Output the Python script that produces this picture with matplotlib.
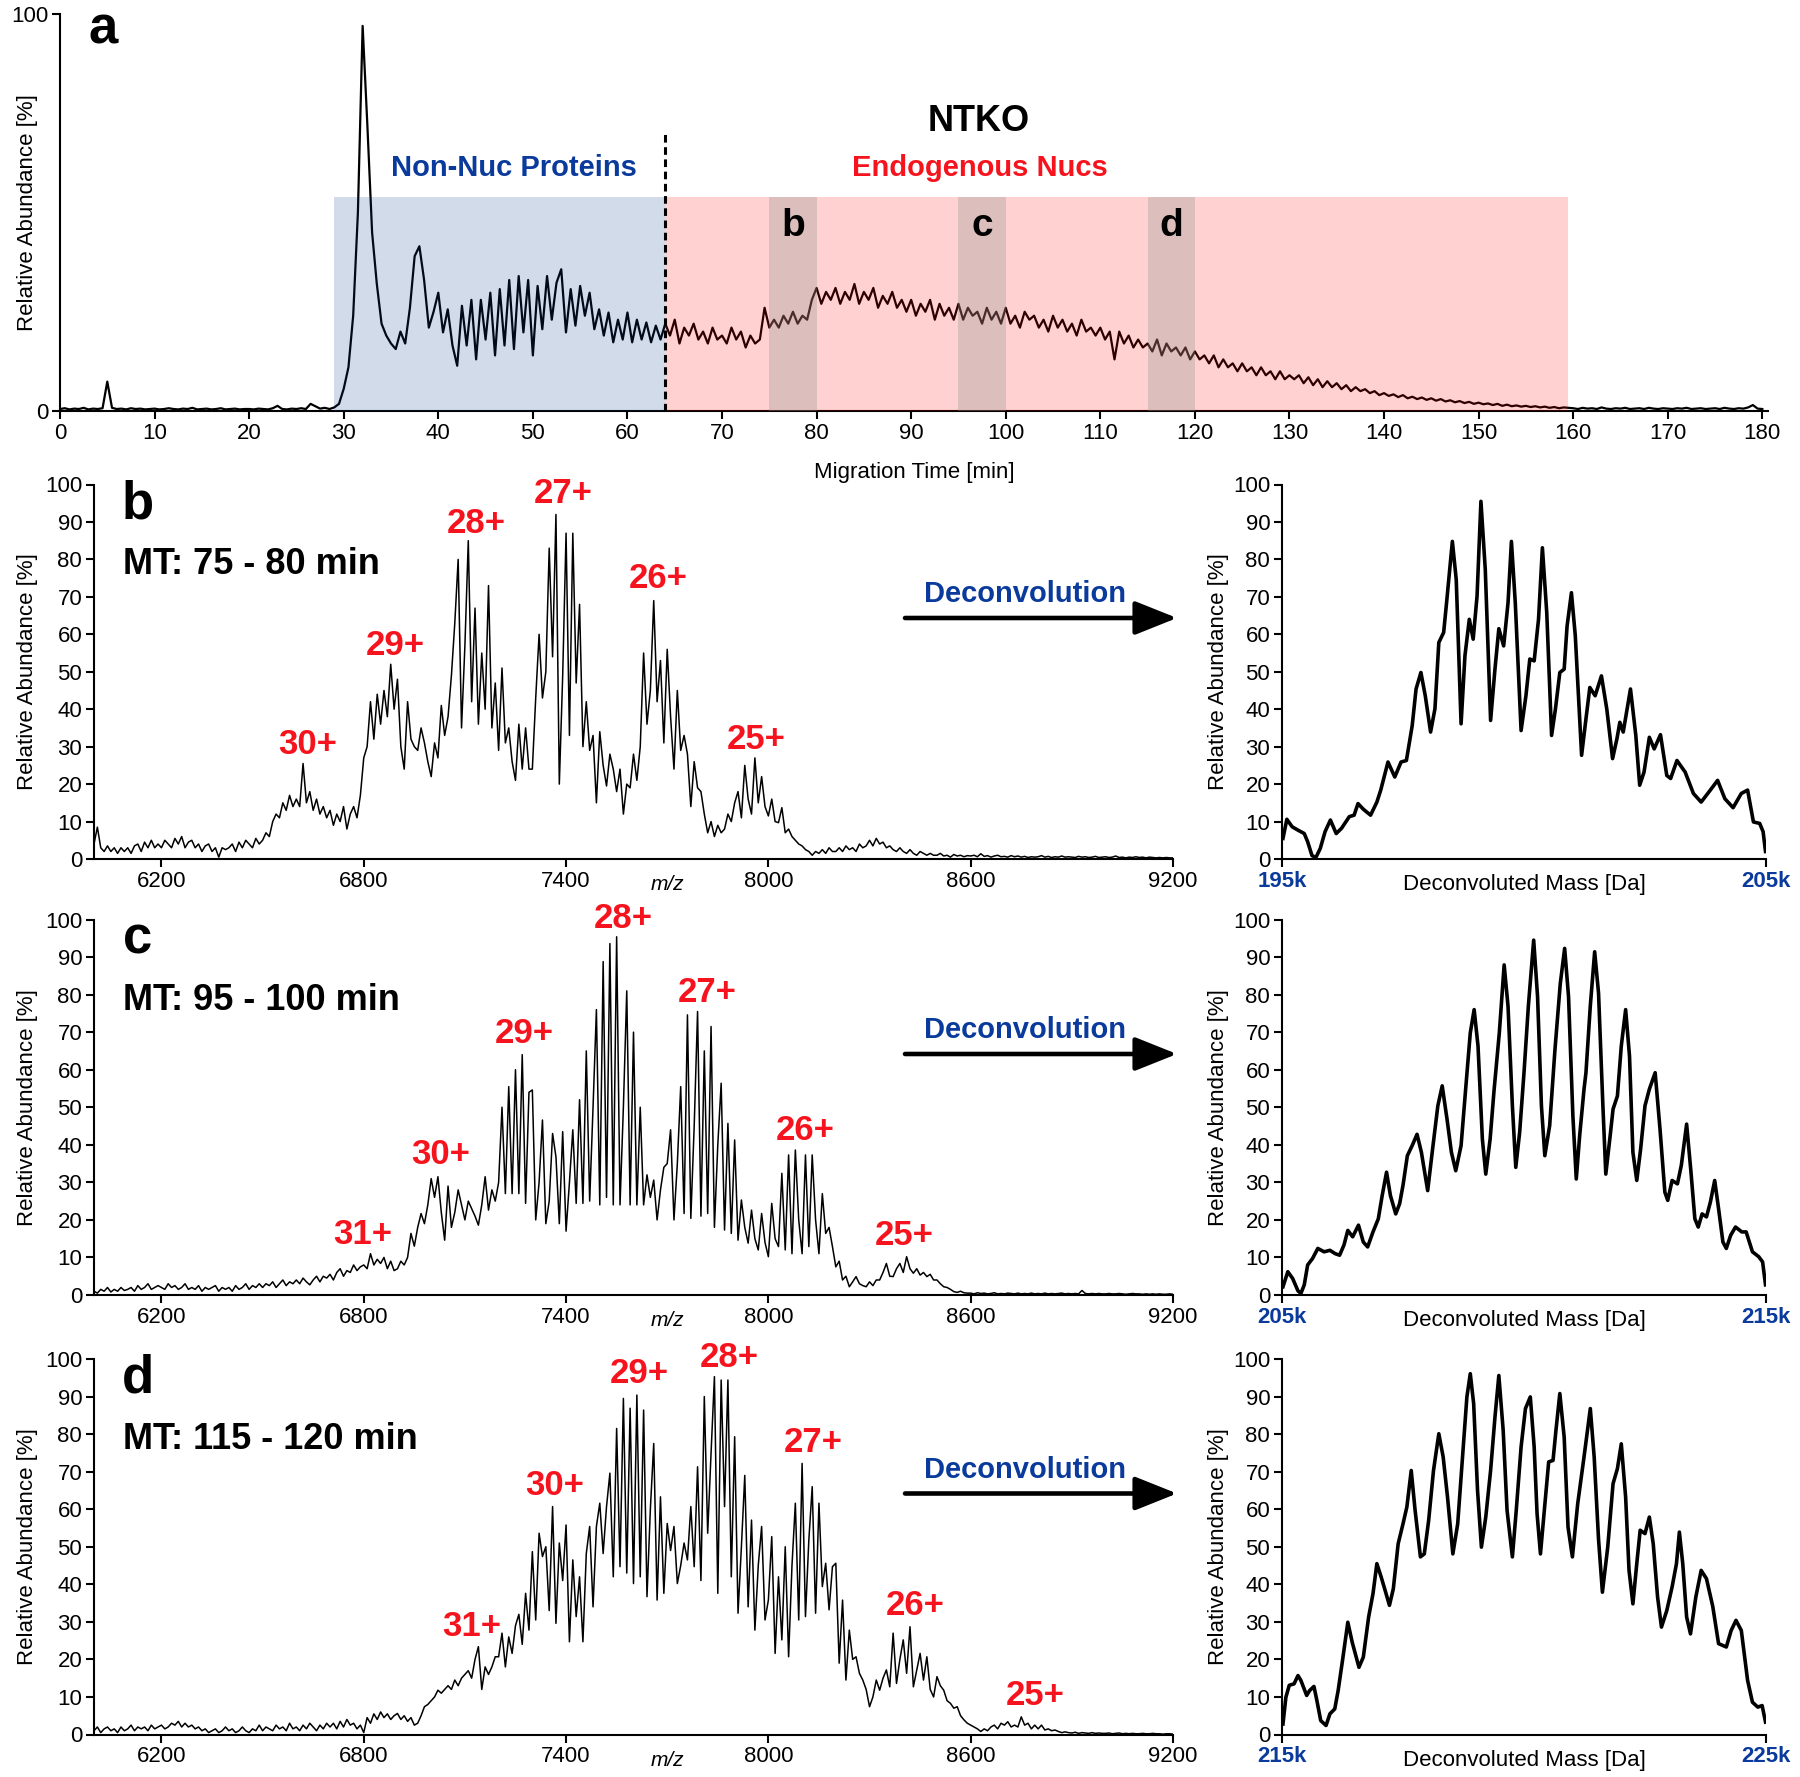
import numpy as np
import matplotlib
matplotlib.use("Agg")
import matplotlib.pyplot as plt
from matplotlib.patches import FancyArrowPatch
from matplotlib.transforms import blended_transform_factory

plt.rcParams["font.family"] = ["Liberation Sans", "DejaVu Sans"]

W, H = 1800, 1777
BLUE = "#0a3a9c"
RED = "#f5141e"

# ── Panel a: electropherogram, one value every 0.5 min from 0 to 180 min ──────
ep_abundance = [
    0.5, 0.7, 0.4, 0.6, 0.5, 0.8, 0.4, 0.6, 0.5, 0.7, 7.4, 0.8, 0.5, 0.6, 0.4, 0.7, 0.5, 0.6, 0.4, 0.5,
    0.6, 0.4, 0.5, 0.7, 0.5, 0.4, 0.6, 0.5, 0.8, 0.4, 0.5, 0.6, 0.4, 0.5, 0.7, 0.4, 0.5, 0.6, 0.4, 0.5,
    0.5, 0.4, 0.6, 0.5, 0.4, 0.7, 1.3, 0.5, 0.4, 0.6, 0.5, 0.7, 0.5, 1.8, 1.2, 0.6, 0.8, 0.5, 0.9, 1.8,
    5.6, 11, 24, 50, 97, 72, 45, 32, 22, 19, 17, 15.6, 20, 17, 26, 39, 41.5, 33, 21, 25,
    29.8, 19.8, 25.6, 16.5, 11.4, 26.5, 16.5, 28, 13, 28, 18, 29.8, 14, 30.7, 16.5, 33, 15.6, 34, 19.8, 33,
    14, 31.5, 20.6, 34, 23, 32.3, 35.7, 19.8, 30.7, 21.5, 31.5, 24, 29.8, 20.6, 25.6, 19, 24.8, 17.3, 23, 18,
    24.8, 17.3, 23, 18, 22.3, 17.3, 21.5, 18, 22, 19, 23, 17, 21, 19, 22, 18, 20, 17, 21, 18,
    19, 17, 21, 18, 20, 16, 19, 17, 18, 26, 21, 23, 21, 24, 22, 25, 22, 24, 23, 28,
    31, 27, 30, 28, 31, 27, 30, 28, 32, 27, 30, 28, 31, 26, 29, 27, 30, 26, 28, 25,
    28, 24, 27, 25, 28, 23, 27, 24, 26, 23, 27, 23, 26, 24, 25, 22, 26, 23, 25, 22,
    26, 22, 24, 21, 25, 23, 24, 21, 23, 20, 24, 21, 23, 20, 22, 19, 23, 20, 21, 19,
    21, 18, 20, 13, 20, 17, 19, 16, 18, 16, 17, 15, 18, 14, 17, 15, 16, 14, 16, 13,
    15, 13, 14, 12, 14, 11, 13, 11, 12, 10, 12, 10, 11, 9, 11, 9, 10, 8, 10, 8,
    9, 8, 9, 7, 8.5, 6.5, 8, 6, 7.5, 6, 7, 5.5, 6.5, 5, 6, 5, 5.5, 4.5, 5, 4,
    4.5, 3.8, 4.2, 3.5, 4, 3.2, 3.6, 3, 3.4, 2.8, 3.2, 2.6, 3, 2.4, 2.7, 2.2, 2.5, 2, 2.3, 1.8,
    2.1, 1.7, 1.9, 1.5, 1.8, 1.3, 1.6, 1.2, 1.4, 1.1, 1.3, 1, 1.2, 0.9, 1.1, 0.8, 1, 0.7, 0.9, 0.8,
    0.7, 0.5, 0.8, 0.6, 0.7, 0.5, 0.9, 0.6, 0.5, 0.7, 0.6, 0.8, 0.5, 0.6, 0.7, 0.5, 0.8, 0.6, 0.5, 0.7,
    0.6, 0.5, 0.7, 0.6, 0.8, 0.5, 0.6, 0.7, 0.5, 0.6, 0.7, 0.5, 0.8, 0.6, 0.5, 0.7, 0.6, 0.9, 1.5, 0.6,
    0.5,
]
ep_step = 0.5

# fractions picked for MS (start, end, panel letter)
fractions = [(75, 80, "b"), (95, 100, "c"), (115, 120, "d")]

# ── Raw MS spectra, one value every 10 m/z starting at 6000 ───────────────────
mz_start, mz_step = 6000, 10

ms_b = [
    4, 8.5, 3, 2, 3.5, 2, 3, 1.5, 3, 2,
    3, 1.5, 3.5, 4, 2, 4.5, 3, 5, 3, 4,
    3, 5, 4, 3, 5.5, 4, 6, 3, 4.5, 5,
    3, 4, 2, 3.5, 4, 2, 3, 0.5, 3, 2.5,
    3, 4, 2, 4.5, 3, 5, 4, 3, 5.5, 4,
    5, 7, 6, 10, 12, 11, 15, 13, 17, 14,
    16, 14, 25.5, 15, 18, 13, 16, 12, 14, 11,
    13, 9, 12, 10, 14, 8, 12, 14, 11, 17,
    27, 30, 42, 32, 44, 36, 45, 38, 52, 40,
    48, 30, 24, 42, 32, 30, 29, 35, 31, 26,
    22, 31, 27, 41, 33, 38, 49, 63, 80, 35,
    57, 85, 42, 67, 36, 55, 40, 73, 35, 47,
    29, 51, 31, 35, 26, 21, 36, 24, 35, 24,
    24, 43, 60, 43, 50, 83, 54, 92, 20, 49,
    87, 33, 87, 47, 68, 30, 42, 29, 33, 15,
    34, 25, 19.5, 28, 24, 18, 24, 12, 20, 19,
    28, 21, 30, 55, 36, 45, 69, 42, 53, 31,
    56, 38, 24, 45, 29, 33, 28, 14, 26, 19,
    18, 12, 7, 10, 6, 9, 7, 8, 12, 10,
    15, 18, 11, 25, 16, 12, 27, 15, 22, 14,
    11.5, 16, 10, 9.7, 13.7, 7, 8, 6, 5, 4,
    3.5, 2.5, 2, 1, 2, 1.5, 2.5, 1.5, 3, 2,
    2, 3, 2, 3.5, 2.5, 3, 2, 4, 3, 3.5,
    5, 3.5, 5.5, 4, 4.5, 3, 3.5, 2.5, 2, 3,
    2, 1.5, 2.5, 1.5, 1, 2, 1.5, 1, 1.5, 1,
    1, 1.5, 0.8, 1, 0.5, 1.2, 0.8, 1, 0.6, 0.9,
    0.8, 1, 0.6, 1.4, 0.7, 0.9, 0.5, 0.8, 1, 0.6,
    0.7, 0.5, 0.9, 0.6, 0.8, 0.5, 0.7, 0.4, 0.6, 0.5,
    0.6, 0.9, 0.5, 0.7, 0.4, 0.6, 0.5, 0.8, 0.5, 0.6,
    0.5, 0.4, 0.7, 0.5, 0.6, 0.4, 0.5, 0.7, 0.4, 0.5,
    0.6, 0.4, 0.5, 0.8, 0.4, 0.5, 0.3, 0.5, 0.4, 0.6,
    0.4, 0.5, 0.3, 0.5, 0.4, 0.3, 0.4, 0.3, 0.4, 0.3,
    0.3,
]

ms_c = [
    1, 0.5, 1.5, 1, 2, 0.8, 1.5, 1, 2, 1.2,
    1.5, 2, 1, 2.5, 1.5, 2, 3, 1.5, 2, 2.5,
    2, 1.5, 3, 2, 2.5, 1.5, 2, 3, 1.5, 2,
    1.5, 2.5, 1, 2, 1.5, 2, 2.5, 1, 2, 1.5,
    2, 1, 2.5, 1.5, 2, 3, 1.5, 2.5, 2, 3,
    2, 3, 2.5, 3.5, 2, 3, 4, 2.5, 3.5, 3,
    4, 3, 4.5, 3.5, 2.7, 4, 5, 3.5, 5, 4.5,
    5.5, 4, 6, 7, 5, 6.5, 6, 8, 6.5, 7.5,
    8, 7, 11, 8, 9.5, 8.4, 10, 7, 9, 6.5,
    7, 9, 8, 10, 16.4, 13, 18, 21.7, 19, 24,
    31, 26, 31.5, 22, 14.6, 29, 18, 22, 28, 24,
    20, 25, 23, 21, 18.6, 24, 31.5, 22.6, 28, 25,
    30, 50, 27, 55.5, 27, 60, 27, 64, 24.4, 54,
    54.6, 20, 30, 46.6, 19, 25, 43, 36.8, 19, 43.5,
    17, 30, 44, 24.4, 52, 24.4, 65, 25, 50, 76,
    24, 88.8, 26, 93.6, 24, 95.4, 24, 50, 81, 24,
    70, 24, 50, 24, 32, 26, 30.6, 20, 28, 34,
    35, 44, 20, 35, 55.5, 21.7, 74.6, 20.4, 45, 75.5,
    21, 65, 21.7, 71.5, 18, 40, 56.4, 17.3, 45.7, 16.4,
    41.3, 14.6, 25.3, 18, 13.8, 22.6, 15, 12, 21.7, 14,
    10.2, 24.4, 15, 12.9, 32.4, 12, 37.3, 11, 38.6, 20,
    11, 37.3, 12.9, 37.3, 20, 11, 27, 16.4, 18, 12.9,
    7.5, 9, 4, 5, 2.2, 3.5, 4.9, 3, 2.5, 2.2,
    3.5, 2.5, 4, 4, 6, 8.4, 5, 4.9, 7, 8.4,
    6, 10.2, 7, 5.8, 7, 5.3, 6, 4.9, 5.5, 4,
    4, 3, 2.2, 2, 1.5, 0.9, 0.7, 1, 0.6, 0.5,
    0.5, 0.3, 0.6, 0.4, 0.5, 0.3, 0.4, 0.6, 0.3, 0.4,
    0.3, 0.5, 0.4, 0.3, 0.5, 0.3, 0.4, 0.3, 0.5, 0.3,
    0.4, 0.3, 0.5, 0.3, 0.4, 0.3, 0.4, 0.5, 0.3, 0.4,
    0.3, 0.4, 0.3, 1.2, 0.4, 0.3, 0.4, 0.3, 0.4, 0.3,
    0.3, 0.4, 0.3, 0.3, 0.4, 0.3, 0.2, 0.3, 0.4, 0.3,
    0.3, 0.2, 0.3, 0.2, 0.3, 0.2, 0.3, 0.2, 0.2, 0.3,
    0.2,
]

ms_d = [
    1, 2, 0.5, 1.5, 2, 1, 1.5, 0.5, 2, 1,
    1.5, 2.5, 1, 2, 1.5, 2, 1, 2.5, 1.5, 2,
    2.5, 1.5, 2, 3, 2.5, 3.5, 2, 3, 2, 2.5,
    1.5, 2, 1, 1.5, 0.5, 1, 1.5, 0.5, 1, 2,
    1, 1.5, 0.5, 1, 2, 1, 0.5, 1.5, 1, 2.5,
    1, 2, 1.5, 1, 2.5, 1.5, 2, 1, 3, 1.5,
    2, 1, 2.5, 1.5, 3, 2, 1, 2.5, 1.5, 3,
    2, 3, 1.5, 3.5, 2, 4, 2.5, 3, 1.5, 2.5,
    0.5, 4.5, 3, 5.5, 4, 6, 4.5, 5.5, 4, 5,
    5.6, 4, 5, 3.5, 4.5, 2.5, 3, 5, 7.4, 8,
    9, 10, 11.8, 11, 12, 13, 12, 14.5, 13, 15,
    16, 17, 15, 20, 23.4, 12, 18, 16, 18, 20.7,
    20.7, 27, 18, 26, 21.6, 29, 32, 24, 37.6, 27.8,
    48.7, 30.5, 53.6, 47.4, 50, 33, 60.7, 29.6, 51, 41,
    55.8, 24.7, 46.5, 31.4, 42, 24.7, 48.2, 55.4, 34, 55.4,
    61.6, 48.2, 60.7, 69.6, 42, 81.5, 44.7, 89.5, 43, 86.9,
    40.2, 90.4, 42, 86.4, 36.7, 60, 77.5, 35.8, 63.3, 37.6,
    56.2, 49, 55.4, 40.2, 45, 51, 46.5, 60.7, 44.7, 71.3,
    41, 90, 53.6, 74.9, 95.3, 37.6, 94.4, 60.7, 94.4, 42,
    79.3, 32.3, 50, 69, 34, 57.1, 27.8, 45, 55.4, 30.5,
    35.8, 52.7, 21.6, 42, 25.2, 50, 20.7, 45, 61.6, 30.5,
    72.2, 31.4, 51.8, 66, 32.3, 61.6, 39.4, 45.6, 33.2, 44.7,
    45.6, 19, 35.8, 14.5, 27.8, 20, 20.7, 16.3, 14.5, 12,
    7.4, 10, 14.5, 11.8, 15, 17.2, 12.7, 27, 13.6, 20,
    25.2, 16.3, 28.7, 12.7, 17.2, 21.6, 14.5, 20.7, 12, 10,
    15.4, 13, 11.8, 9, 8.3, 7, 7.4, 5, 3.9, 3,
    2.5, 2, 1.5, 0.8, 1.5, 1, 2, 2.5, 1.5, 3,
    2.5, 3.4, 2, 2.5, 2, 4.7, 2.5, 3, 1.5, 2.5,
    1.5, 2.5, 1.2, 1.5, 1, 1.2, 0.8, 0.5, 0.7, 0.5,
    0.4, 0.6, 0.3, 0.5, 0.4, 0.3, 0.5, 0.3, 0.4, 0.3,
    0.3, 0.4, 0.2, 0.3, 0.4, 0.2, 0.3, 0.2, 0.3, 0.2,
    0.2, 0.3, 0.2, 0.2, 0.3, 0.2, 0.2, 0.1, 0.2, 0.2,
    0.1,
]

# charge state labels: (text, m/z, baseline height)
charges_b = [("30+", 6634, 28), ("29+", 6893, 54.6), ("28+", 7134, 87.1),
             ("27+", 7392, 95.1), ("26+", 7672, 72.4), ("25+", 7965, 29.5)]
charges_c = [("31+", 6797, 13.5), ("30+", 7029, 34.9), ("29+", 7277, 67),
             ("28+", 7570, 97.8), ("27+", 7819, 78), ("26+", 8108, 41.3),
             ("25+", 8404, 13.2)]
charges_d = [("31+", 7121, 26.2), ("30+", 7366, 63.9), ("29+", 7618, 93.5),
             ("28+", 7884, 97.8), ("27+", 8132, 75.2), ("26+", 8435, 31.8),
             ("25+", 8792, 7.9)]

# ── Deconvoluted spectra: mass offset (kDa from window start), abundance ──────
dec_b_mass = [
    0.02, 0.10, 0.21, 0.33, 0.46, 0.53, 0.62, 0.70, 0.79, 0.89,
    1.00, 1.12, 1.23, 1.39, 1.49, 1.57, 1.68, 1.83, 1.96, 2.04,
    2.19, 2.33, 2.46, 2.57, 2.69, 2.77, 2.87, 2.96, 3.07, 3.16,
    3.24, 3.34, 3.40, 3.52, 3.60, 3.70, 3.78, 3.87, 3.95, 4.03,
    4.11, 4.20, 4.31, 4.40, 4.48, 4.58, 4.67, 4.74, 4.82, 4.94,
    5.04, 5.12, 5.21, 5.30, 5.38, 5.47, 5.57, 5.65, 5.74, 5.83,
    5.89, 5.98, 6.06, 6.19, 6.28, 6.36, 6.47, 6.60, 6.71, 6.83,
    6.92, 6.98, 7.05, 7.20, 7.31, 7.39, 7.48, 7.59, 7.69, 7.82,
    7.95, 8.03, 8.16, 8.33, 8.50, 8.66, 8.85, 9.00, 9.15, 9.32,
    9.49, 9.62, 9.74, 9.87, 9.94, 9.99,
]
dec_b_ab = [
    5.5, 10.6, 8.6, 7.7, 6.8, 4.6, 0.9, 0.4, 2.8, 7.3,
    10.4, 6.8, 8.2, 11.3, 11.7, 14.8, 13.3, 11.7, 15.2, 18.4,
    25.9, 21.9, 25.9, 26.3, 35.6, 45.4, 49.8, 43.6, 33.9, 40.1,
    57.8, 60.5, 68.4, 84.8, 74.6, 36.1, 54.3, 64.0, 58.7, 70.2,
    95.5, 77.3, 37.0, 50.7, 61.5, 56.9, 68.4, 84.8, 68.4, 34.3,
    43.6, 53.4, 52.9, 64.0, 83.1, 65.8, 33.0, 40.1, 49.8, 50.7,
    62.2, 71.1, 59.6, 27.7, 37.4, 45.8, 43.6, 48.9, 40.1, 26.8,
    32.1, 36.5, 33.9, 45.4, 33.0, 19.7, 23.2, 32.5, 29.4, 33.2,
    22.3, 21.5, 26.3, 23.2, 17.5, 15.2, 18.4, 21.0, 16.1, 13.7,
    17.5, 18.4, 9.9, 9.5, 7.3, 2.0,
]

dec_c_mass = [
    0.02, 0.12, 0.22, 0.33, 0.39, 0.46, 0.53, 0.63, 0.74, 0.87,
    0.99, 1.10, 1.19, 1.28, 1.36, 1.46, 1.58, 1.68, 1.77, 1.88,
    1.99, 2.07, 2.16, 2.24, 2.35, 2.43, 2.50, 2.59, 2.69, 2.79,
    2.88, 3.01, 3.12, 3.22, 3.31, 3.41, 3.50, 3.59, 3.70, 3.80,
    3.89, 3.97, 4.05, 4.14, 4.21, 4.30, 4.38, 4.49, 4.59, 4.67,
    4.76, 4.83, 4.91, 5.00, 5.09, 5.20, 5.28, 5.36, 5.43, 5.53,
    5.64, 5.75, 5.84, 5.92, 6.01, 6.08, 6.15, 6.24, 6.28, 6.37,
    6.46, 6.54, 6.63, 6.69, 6.78, 6.84, 6.93, 7.01, 7.10, 7.18,
    7.25, 7.33, 7.41, 7.50, 7.59, 7.71, 7.81, 7.91, 7.97, 8.06,
    8.17, 8.25, 8.36, 8.45, 8.53, 8.60, 8.68, 8.77, 8.85, 8.94,
    9.02, 9.11, 9.18, 9.27, 9.37, 9.50, 9.59, 9.72, 9.85, 9.93,
    9.99,
]
dec_c_ab = [
    2.2, 6.2, 4.4, 1.1, 0.4, 2.7, 8.0, 9.7, 12.4, 11.5,
    11.9, 11.0, 10.6, 13.3, 17.2, 15.5, 18.6, 14.1, 12.8, 16.8,
    20.3, 26.5, 32.7, 26.5, 21.6, 24.3, 29.2, 37.1, 39.8, 42.8,
    38.0, 27.8, 39.8, 50.4, 55.7, 46.8, 38.0, 33.1, 39.8, 55.7,
    69.8, 76.0, 66.3, 41.5, 32.2, 41.5, 54.3, 69.8, 87.9, 76.9,
    50.4, 34.0, 43.3, 59.2, 76.9, 94.5, 79.5, 50.4, 37.1, 45.1,
    65.4, 83.0, 92.3, 79.5, 47.7, 30.9, 42.4, 54.8, 59.2, 77.0,
    91.4, 80.4, 50.4, 32.2, 42.4, 49.5, 53.0, 66.3, 76.0, 63.6,
    38.0, 30.5, 38.9, 50.4, 54.8, 59.2, 44.2, 27.4, 25.2, 30.5,
    29.6, 34.5, 45.5, 32.7, 20.3, 18.1, 21.6, 20.8, 24.7, 30.5,
    23.0, 14.1, 12.4, 15.9, 18.1, 16.8, 16.8, 11.5, 10.2, 8.8,
    2.7,
]

dec_d_mass = [
    0.02, 0.08, 0.15, 0.25, 0.33, 0.39, 0.51, 0.57, 0.66, 0.72,
    0.80, 0.91, 0.99, 1.09, 1.16, 1.25, 1.36, 1.45, 1.59, 1.68,
    1.79, 1.88, 1.96, 2.05, 2.13, 2.22, 2.30, 2.40, 2.50, 2.58,
    2.67, 2.75, 2.86, 2.94, 3.03, 3.13, 3.24, 3.33, 3.42, 3.53,
    3.63, 3.73, 3.82, 3.89, 3.96, 4.04, 4.12, 4.21, 4.31, 4.40,
    4.48, 4.57, 4.65, 4.76, 4.84, 4.94, 5.03, 5.13, 5.21, 5.27,
    5.34, 5.42, 5.51, 5.60, 5.66, 5.74, 5.83, 5.91, 6.00, 6.11,
    6.24, 6.37, 6.45, 6.54, 6.62, 6.73, 6.84, 6.93, 7.01, 7.10,
    7.17, 7.25, 7.33, 7.40, 7.50, 7.59, 7.67, 7.76, 7.84, 7.95,
    8.06, 8.15, 8.21, 8.28, 8.36, 8.44, 8.55, 8.66, 8.77, 8.90,
    9.02, 9.18, 9.28, 9.38, 9.49, 9.62, 9.72, 9.83, 9.92, 9.99,
]
dec_d_ab = [
    2.8, 9.9, 13.1, 13.5, 15.7, 14.4, 10.4, 11.7, 12.8, 9.1,
    3.7, 2.4, 5.5, 6.8, 11.7, 19.7, 29.9, 24.6, 17.9, 20.6,
    31.3, 37.5, 45.5, 41.9, 38.4, 34.4, 38.8, 50.8, 56.1, 60.6,
    70.3, 59.7, 47.3, 48.1, 57.0, 70.3, 80.1, 73.9, 63.2, 48.1,
    56.1, 73.9, 89.9, 96.1, 88.1, 65.0, 49.9, 57.9, 70.3, 84.5,
    95.6, 81.0, 59.7, 47.3, 59.7, 76.6, 86.8, 89.9, 76.6, 58.8,
    48.1, 59.7, 72.6, 73.0, 81.0, 90.8, 79.2, 55.2, 47.3, 61.5,
    73.9, 86.8, 73.9, 52.0, 37.9, 49.9, 66.8, 70.8, 77.4, 63.2,
    43.7, 34.8, 45.5, 54.4, 53.5, 57.9, 50.8, 36.6, 28.6, 33.0,
    39.3, 45.5, 53.9, 45.5, 31.3, 26.8, 36.6, 43.7, 41.5, 34.1,
    24.2, 23.3, 27.7, 30.4, 27.7, 14.4, 8.6, 7.3, 7.7, 3.3,
]

rows = [
    # letter, MT window, spectrum, charges, deconv mass, deconv abundance, mass window labels
    ("b", "MT: 75 - 80 min", ms_b, charges_b, dec_b_mass, dec_b_ab, ("195k", "205k")),
    ("c", "MT: 95 - 100 min", ms_c, charges_c, dec_c_mass, dec_c_ab, ("205k", "215k")),
    ("d", "MT: 115 - 120 min", ms_d, charges_d, dec_d_mass, dec_d_ab, ("215k", "225k")),
]
# pixel rows (top, bottom) of each spectrum panel
row_px = [(484.5, 859), (919.5, 1295), (1359, 1734.5)]


fig = plt.figure(figsize=(W / 100, H / 100), dpi=100)


def add_axes_px(left, top, right, bottom):
    return fig.add_axes([left / W, 1 - bottom / H, (right - left) / W, (bottom - top) / H])


def style(ax):
    for s in ("top", "right"):
        ax.spines[s].set_visible(False)
    for s in ("left", "bottom"):
        ax.spines[s].set_linewidth(1.5)
    ax.tick_params(direction="out", length=5.5, width=1.5, labelsize=16, pad=3)


# ── a: electropherogram ──────────────────────────────────────────────────────
ax_a = add_axes_px(60, 14, 1768, 411)
style(ax_a)
t = ep_step * np.arange(len(ep_abundance))
ax_a.plot(t, ep_abundance, color="k", lw=1.6, zorder=2)
ax_a.axvspan(29, 64, ymax=0.54, color=(0, 0.22, 0.56), alpha=0.18, lw=0, zorder=3)
ax_a.axvspan(64, 159.5, ymax=0.54, color=(1, 0, 0), alpha=0.18, lw=0, zorder=3)
for lo, hi, lab in fractions:
    ax_a.axvspan(lo, hi, ymax=0.54, color=(0.55, 0.59, 0.57), alpha=0.3, lw=0, zorder=4)
    ax_a.text((lo + hi) / 2, 44, lab, ha="center", va="baseline", fontsize=28,
              fontweight="bold", zorder=6)
ax_a.plot([64, 64], [0, 70.3], color="k", lw=2.2, ls=(0, (2.5, 1.5)), zorder=5)
ax_a.set_xlim(0, 180.6)
ax_a.set_ylim(0, 100)
ax_a.set_xticks(range(0, 181, 10))
ax_a.set_yticks([0, 100])
ax_a.set_ylabel("Relative Abundance [%]", fontsize=16)
ax_a.yaxis.set_label_coords(-0.013, 0.5)
ax_a.set_xlabel("Migration Time [min]", fontsize=16)
ax_a.xaxis.set_label_coords(0.5, -0.128)
ax_a.text(4.56, 92.5, "a", ha="center", va="baseline", fontsize=38, fontweight="bold")
ax_a.text(48.0, 59.3, "Non-Nuc Proteins", ha="center", va="baseline", fontsize=21,
          fontweight="bold", color=BLUE)
ax_a.text(97.3, 59.3, "Endogenous Nucs", ha="center", va="baseline", fontsize=21,
          fontweight="bold", color=RED)
ax_a.text(97.1, 70.6, "NTKO", ha="center", va="baseline", fontsize=26, fontweight="bold")

# ── b-d: raw spectra + deconvoluted spectra ─────────────────────────────────
for (letter, mt, spec, charges, dmass, dab, klabels), (top, bot) in zip(rows, row_px):
    ax = add_axes_px(94, top, 1173, bot)
    style(ax)
    mz = mz_start + mz_step * np.arange(len(spec))
    ax.plot(mz, spec, color="k", lw=1.1)
    ax.set_xlim(6000, 9200)
    ax.set_ylim(0, 100)
    ax.set_xticks(range(6200, 9201, 600))
    ax.set_yticks(range(0, 101, 10))
    ax.set_ylabel("Relative Abundance [%]", fontsize=16)
    ax.yaxis.set_label_coords(-0.052, 0.5)
    tr = blended_transform_factory(ax.transData, ax.transAxes)
    ax.text(7700, -0.069, "m/z", transform=tr, ha="center", va="center",
            fontsize=15, style="italic")
    ax.text(6130, 91, letter, ha="center", va="baseline", fontsize=38, fontweight="bold")
    ax.text(6086, 76, mt, ha="left", va="baseline", fontsize=26, fontweight="bold")
    for lab, x, y in charges:
        ax.text(x, y, lab, ha="center", va="baseline", fontsize=25,
                fontweight="bold", color=RED)

    axd = add_axes_px(1282, top, 1766, bot)
    style(axd)
    axd.plot(dmass, dab, color="k", lw=2.6, solid_joinstyle="round")
    axd.set_xlim(0, 10)
    axd.set_ylim(0, 100)
    axd.set_xticks([0, 10])
    axd.set_xticklabels(klabels, fontweight="bold", color=BLUE)
    axd.set_yticks(range(0, 101, 10))
    axd.set_ylabel("Relative Abundance [%]", fontsize=16)
    axd.yaxis.set_label_coords(-0.11, 0.5)
    axd.text(0.5, -0.069, "Deconvoluted Mass [Da]", transform=axd.transAxes,
             ha="center", va="center", fontsize=16)

    # "Deconvolution" arrow between the two panels
    arrow_y = bot - 241
    fig.text(1025 / W, 1 - (arrow_y - 24) / H, "Deconvolution", ha="center", va="center",
             fontsize=21, fontweight="bold", color=BLUE)
    fig.add_artist(FancyArrowPatch((905 / W, 1 - arrow_y / H), (1177 / W, 1 - arrow_y / H),
                                   transform=fig.transFigure,
                                   arrowstyle="-|>,head_length=0.4,head_width=0.16",
                                   mutation_scale=65, lw=3.3, color="k",
                                   shrinkA=0, shrinkB=0))

fig.savefig("out.png", dpi=100)
